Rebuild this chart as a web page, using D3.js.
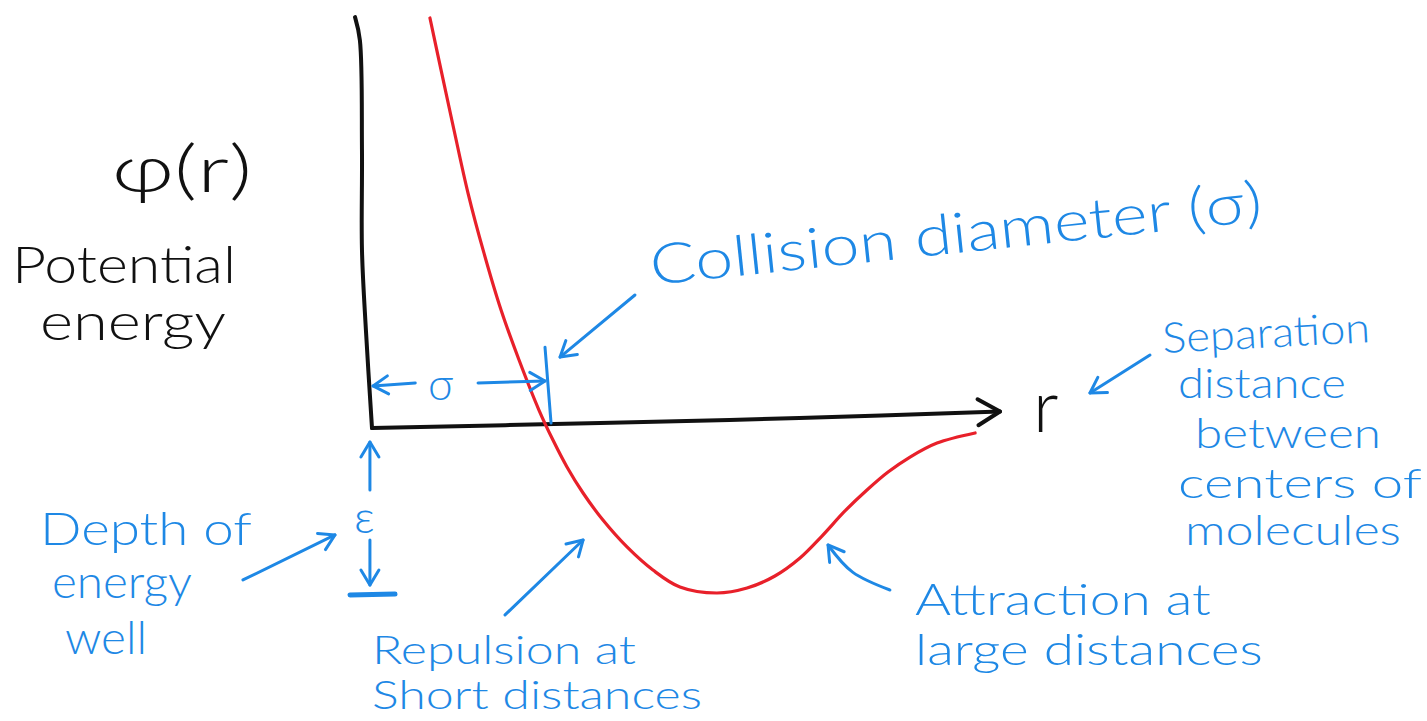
<!DOCTYPE html>
<html>
<head>
<meta charset="utf-8">
<script src="https://cdn.jsdelivr.net/npm/d3@7"></script>
<style>
  body { margin: 0; background: #fff; }
  svg { display: block; }
  text { font-family: Lato, "Open Sans", sans-serif; font-weight: 300; }
</style>
</head>
<body>
<svg id="chart"></svg>
<script>
// separation distance r (in units of sigma) and potential phi (in units of epsilon)
const rVals   = [0.335, 0.399, 0.474, 0.555, 0.647, 0.746, 0.850, 0.965, 1.046, 1.127, 1.220, 1.335, 1.474, 1.624, 1.780, 1.994, 2.168, 2.329, 2.474, 2.601, 2.734, 2.861, 2.983, 3.110, 3.266, 3.486];
const phiVals = [2.485, 2.170, 1.806, 1.424, 1.061, 0.715, 0.412, 0.109, -0.073, -0.236, -0.394, -0.558, -0.721, -0.861, -0.964, -1.000, -0.970, -0.897, -0.788, -0.655, -0.503, -0.376, -0.267, -0.176, -0.091, -0.030];

// hand drawn axes (r, phi)
const yAxisPts = [[-0.098, 2.49], [-0.07, 2.35], [-0.058, 1.69], [-0.058, 1.08], [-0.035, 0.59], [0, 0]];
const xAxisPts = [[0, 0], [1.32, 0.03], [2.47, 0.06], [3.63, 0.10]];

// blue annotation strokes in (r, phi); head = arrow tip at the end
const arrows = [
  { pts: [[0.25, 0.273], [0.006, 0.255]], head: true },     // sigma left
  { pts: [[0.613, 0.273], [1.0, 0.285]], head: true },      // sigma right
  { pts: [[1.0, 0.49], [1.035, 0.03]], head: false },       // sigma tick
  { pts: [[1.52, 0.806], [1.087, 0.43]], head: true },      // collision diameter
  { pts: [[-0.012, -0.376], [-0.012, -0.085]], head: true },// eps up
  { pts: [[-0.012, -0.679], [-0.012, -0.952]], head: true },// eps down
  { pts: [[-0.746, -0.921], [-0.214, -0.648]], head: true },// depth of well
  { pts: [[0.769, -1.133], [1.22, -0.679]], head: true },   // repulsion
  { pts: [[2.994, -0.982], [2.78, -0.875], [2.636, -0.709]], head: true, curved: true }, // attraction
  { pts: [[4.497, 0.442], [4.15, 0.212]], head: true }      // separation
];
const epsBar = [[-0.127, -1.012], [0.133, -1.006]];

const width = 1427, height = 721;
const blue = "#1e88e5", red = "#e8202a", ink = "#111";

const svg = d3.select("#chart").attr("width", width).attr("height", height);
svg.append("rect").attr("width", width).attr("height", height).attr("fill", "#fff");

// 173 px per sigma, 165 px per epsilon
const x = d3.scaleLinear().domain([0, 1]).range([372, 545]);
const y = d3.scaleLinear().domain([0, -1]).range([428, 593]);

const defs = svg.append("defs");
function marker(id, color, len, half, sw) {
  defs.append("marker")
    .attr("id", id)
    .attr("markerUnits", "userSpaceOnUse")
    .attr("orient", "auto")
    .attr("viewBox", `${-len - 4} ${-half - 4} ${len + 8} ${half * 2 + 8}`)
    .attr("markerWidth", len + 8).attr("markerHeight", half * 2 + 8)
    .attr("refX", 0).attr("refY", 0)
    .append("path")
    .attr("d", `M${-len},${-half} L0,0 L${-len},${half}`)
    .attr("fill", "none").attr("stroke", color)
    .attr("stroke-width", sw).attr("stroke-linecap", "round").attr("stroke-linejoin", "round");
}
marker("headBlue", blue, 15, 9, 3);
marker("headBlack", ink, 22, 13, 4);

const line = d3.line().x(d => x(d[0])).y(d => y(d[1]));
const smooth = d3.line().x(d => x(d[0])).y(d => y(d[1])).curve(d3.curveCatmullRom.alpha(0.5));

// axes
svg.append("path").datum(yAxisPts).attr("d", smooth)
  .attr("fill", "none").attr("stroke", ink).attr("stroke-width", 4).attr("stroke-linecap", "round");
svg.append("path").datum(xAxisPts).attr("d", smooth)
  .attr("fill", "none").attr("stroke", ink).attr("stroke-width", 4).attr("stroke-linecap", "round")
  .attr("marker-end", "url(#headBlack)");

// potential curve
const curveData = rVals.map((r, i) => [r, phiVals[i]]);
svg.append("path").datum(curveData).attr("d", smooth)
  .attr("fill", "none").attr("stroke", red).attr("stroke-width", 3.2).attr("stroke-linecap", "round");

// annotations
svg.selectAll(".arrow").data(arrows).join("path")
  .attr("class", "arrow")
  .attr("d", d => (d.curved ? d3.line().x(p => x(p[0])).y(p => y(p[1])).curve(d3.curveNatural) : line)(d.pts))
  .attr("fill", "none").attr("stroke", blue).attr("stroke-width", 3).attr("stroke-linecap", "round")
  .attr("marker-end", d => d.head ? "url(#headBlue)" : null);
svg.append("path").datum(epsBar).attr("d", line)
  .attr("stroke", blue).attr("stroke-width", 5).attr("stroke-linecap", "round");

// labels
const labels = [
  { t: "φ(r)", x: 112, y: 192, s: 66, len: 140, c: ink },
  { t: "Potential", x: 12, y: 283, s: 52, len: 224, c: ink },
  { t: "energy", x: 40, y: 340, s: 52, len: 186, c: ink },
  { t: "r", x: 1033, y: 432, s: 72, c: ink },
  { t: "σ", x: 428, y: 400, s: 44, c: blue },
  { t: "ε", x: 354, y: 533, s: 46, c: blue },
  { t: "Separation", x: 1163, y: 353, s: 42, len: 208, c: blue, rot: -3 },
  { t: "distance", x: 1178, y: 398, s: 42, len: 168, c: blue },
  { t: "between", x: 1195, y: 448, s: 42, len: 186, c: blue },
  { t: "centers of", x: 1178, y: 498, s: 42, len: 244, c: blue },
  { t: "molecules", x: 1185, y: 545, s: 42, len: 216, c: blue },
  { t: "Depth of", x: 40, y: 545, s: 46, len: 212, c: blue },
  { t: "energy", x: 52, y: 598, s: 46, len: 140, c: blue },
  { t: "well", x: 65, y: 654, s: 46, len: 82, c: blue },
  { t: "Repulsion at", x: 372, y: 664, s: 40, len: 264, c: blue },
  { t: "Short distances", x: 372, y: 709, s: 40, len: 330, c: blue },
  { t: "Attraction at", x: 915, y: 615, s: 44, len: 296, c: blue },
  { t: "large distances", x: 915, y: 665, s: 44, len: 348, c: blue },
  { t: "Collision diameter (σ)", x: 652, y: 285, s: 56, len: 615, c: blue, rot: -6 }
];

svg.selectAll(".lbl").data(labels).join("text")
  .attr("class", "lbl")
  .attr("x", d => d.x).attr("y", d => d.y)
  .attr("font-size", d => d.s)
  .attr("fill", d => d.c)
  .attr("textLength", d => d.len || null)
  .attr("lengthAdjust", "spacingAndGlyphs")
  .attr("transform", d => d.rot ? `rotate(${d.rot},${d.x},${d.y})` : null)
  .text(d => d.t);
</script>
</body>
</html>
